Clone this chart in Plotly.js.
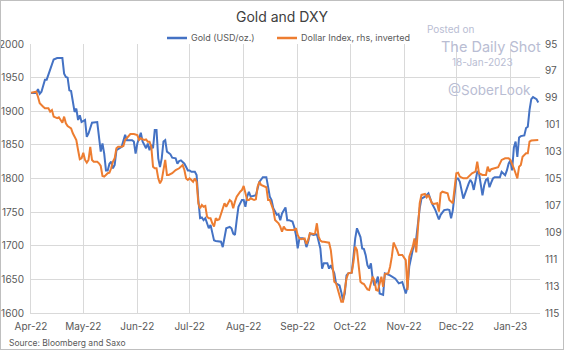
<!DOCTYPE html>
<html><head><meta charset="utf-8">
<script src="https://cdn.plot.ly/plotly-3.0.1.min.js"></script>
<style>
html,body{margin:0;padding:0;background:#fff;}
#wrap{position:relative;width:564px;height:350px;}
#chart{width:564px;height:350px;}
#frame{position:absolute;left:0;top:0;width:564px;height:350px;box-sizing:border-box;border:1px solid #bfbfbf;pointer-events:none;}
</style></head>
<body><div id="wrap"><div id="chart"></div><div id="frame"></div></div>
<script>
// ---- data ----
const goldDates = [
"2022-04-01","2022-04-04","2022-04-05","2022-04-06","2022-04-07","2022-04-08","2022-04-09","2022-04-10","2022-04-11","2022-04-13","2022-04-14","2022-04-16","2022-04-19","2022-04-20","2022-04-21","2022-04-22","2022-04-23","2022-04-24","2022-04-25","2022-04-26","2022-04-27","2022-04-28","2022-04-29","2022-04-30",
"2022-05-02","2022-05-03","2022-05-04","2022-05-05","2022-05-06","2022-05-09","2022-05-10","2022-05-11","2022-05-12","2022-05-13","2022-05-14","2022-05-15","2022-05-16","2022-05-17","2022-05-18","2022-05-19","2022-05-20","2022-05-23","2022-05-25","2022-05-26","2022-05-29","2022-05-30","2022-05-31",
"2022-06-01","2022-06-03","2022-06-04","2022-06-06","2022-06-07","2022-06-08","2022-06-09","2022-06-10","2022-06-11","2022-06-12","2022-06-13","2022-06-14","2022-06-15","2022-06-16","2022-06-17","2022-06-18","2022-06-19","2022-06-20","2022-06-21","2022-06-22","2022-06-23","2022-06-24","2022-06-25","2022-06-26","2022-06-27","2022-06-28","2022-06-29","2022-06-30",
"2022-07-01","2022-07-02","2022-07-04","2022-07-05","2022-07-06","2022-07-07","2022-07-08","2022-07-09","2022-07-10","2022-07-11","2022-07-12","2022-07-13","2022-07-14","2022-07-15","2022-07-16","2022-07-18","2022-07-19","2022-07-20","2022-07-21","2022-07-22","2022-07-24","2022-07-25","2022-07-26","2022-07-27","2022-07-28","2022-07-29","2022-07-30","2022-07-31",
"2022-08-01","2022-08-02","2022-08-03","2022-08-04","2022-08-05","2022-08-07","2022-08-08","2022-08-09","2022-08-10","2022-08-12","2022-08-14","2022-08-15","2022-08-16","2022-08-17","2022-08-18","2022-08-20","2022-08-21","2022-08-22","2022-08-23","2022-08-25","2022-08-26","2022-08-27","2022-08-29","2022-08-30","2022-08-31",
"2022-09-01","2022-09-02","2022-09-04","2022-09-05","2022-09-06","2022-09-07","2022-09-08","2022-09-10","2022-09-12","2022-09-13","2022-09-14","2022-09-15","2022-09-16","2022-09-18","2022-09-19","2022-09-20","2022-09-22","2022-09-23","2022-09-25","2022-09-26","2022-09-27","2022-09-28","2022-09-29","2022-09-30",
"2022-10-02","2022-10-03","2022-10-04","2022-10-05","2022-10-06","2022-10-07","2022-10-08","2022-10-09","2022-10-10","2022-10-11","2022-10-12","2022-10-13","2022-10-14","2022-10-15","2022-10-16","2022-10-17","2022-10-18","2022-10-20","2022-10-21","2022-10-24","2022-10-27","2022-10-29","2022-10-31",
"2022-11-01","2022-11-02","2022-11-03","2022-11-04","2022-11-06","2022-11-08","2022-11-10","2022-11-11","2022-11-13","2022-11-15","2022-11-17","2022-11-19","2022-11-21","2022-11-22","2022-11-24","2022-11-26","2022-11-27","2022-11-28","2022-11-29",
"2022-12-01","2022-12-02","2022-12-03","2022-12-05","2022-12-06","2022-12-07","2022-12-08","2022-12-09","2022-12-10","2022-12-11","2022-12-12","2022-12-13","2022-12-14","2022-12-15","2022-12-16","2022-12-17","2022-12-18","2022-12-19","2022-12-20","2022-12-21","2022-12-22","2022-12-23","2022-12-25","2022-12-26","2022-12-27","2022-12-29","2022-12-30","2022-12-31",
"2023-01-01","2023-01-02","2023-01-03","2023-01-04","2023-01-05","2023-01-06","2023-01-07","2023-01-09","2023-01-10","2023-01-11","2023-01-12","2023-01-13","2023-01-14","2023-01-16","2023-01-17"
];
const goldValues = [
1927,1927,1933,1926,1929,1939,1947,1947,1954,1969,1977,1979,1979,1956,1951,1950,1931,1930,1917,1899,1904,1887,1894,1884,
1887,1862,1867,1875,1883,1884,1862,1840,1852,1837,1812,1812,1822,1825,1815,1820,1842,1847,1865,1857,1857,1855,1837,
1852,1868,1855,1845,1852,1842,1850,1845,1872,1872,1830,1817,1830,1855,1857,1840,1838,1836,1831,1830,1830,1822,1826,1827,1825,1822,1817,1812,
1812,1810,1810,1805,1768,1741,1742,1738,1741,1733,1726,1731,1721,1708,1707,1707,1706,1698,1711,1726,1728,1726,1718,1716,1738,1758,1763,1768,
1768,1758,1773,1780,1773,1774,1775,1785,1795,1802,1802,1788,1773,1768,1756,1746,1747,1738,1748,1757,1738,1738,1736,1728,1716,
1696,1711,1711,1709,1698,1706,1718,1716,1717,1708,1696,1666,1674,1674,1666,1671,1659,1644,1641,1631,1619,1629,1656,1659,
1660,1684,1711,1726,1718,1713,1696,1695,1686,1671,1666,1674,1651,1641,1646,1654,1629,1627,1659,1656,1651,1644,1646,
1639,1629,1639,1669,1694,1711,1756,1770,1773,1778,1763,1753,1739,1746,1753,1754,1753,1741,1753,
1800,1800,1795,1770,1778,1785,1792,1798,1794,1783,1798,1810,1808,1790,1775,1790,1798,1800,1787,1794,1800,1802,1802,1802,1810,1805,1812,1822,
1827,1812,1846,1855,1832,1861,1863,1864,1875,1877,1902,1918,1921,1918,1913
];
const dxyDates = [
"2022-04-01","2022-04-04","2022-04-05","2022-04-06","2022-04-08","2022-04-09","2022-04-11","2022-04-12","2022-04-13","2022-04-14","2022-04-16","2022-04-17","2022-04-18","2022-04-19","2022-04-20","2022-04-21","2022-04-22","2022-04-23","2022-04-24","2022-04-25","2022-04-26","2022-04-27","2022-04-28","2022-04-29","2022-04-30",
"2022-05-01","2022-05-02","2022-05-03","2022-05-04","2022-05-05","2022-05-06","2022-05-07","2022-05-09","2022-05-10","2022-05-11","2022-05-12","2022-05-13","2022-05-15","2022-05-16","2022-05-17","2022-05-18","2022-05-19","2022-05-20","2022-05-21","2022-05-23","2022-05-24","2022-05-25","2022-05-26","2022-05-27","2022-05-28","2022-05-30",
"2022-06-01","2022-06-02","2022-06-03","2022-06-05","2022-06-06","2022-06-07","2022-06-08","2022-06-09","2022-06-10","2022-06-11","2022-06-12","2022-06-13","2022-06-14","2022-06-15","2022-06-16","2022-06-17","2022-06-18","2022-06-19","2022-06-21","2022-06-22","2022-06-23","2022-06-25","2022-06-26","2022-06-27","2022-06-28","2022-06-29","2022-06-30",
"2022-07-01","2022-07-02","2022-07-03","2022-07-04","2022-07-05","2022-07-06","2022-07-07","2022-07-08","2022-07-09","2022-07-10","2022-07-11","2022-07-12","2022-07-13","2022-07-14","2022-07-15","2022-07-16","2022-07-17","2022-07-18","2022-07-19","2022-07-20","2022-07-21","2022-07-22","2022-07-23","2022-07-24","2022-07-25","2022-07-26","2022-07-27","2022-07-28","2022-07-30","2022-07-31",
"2022-08-01","2022-08-02","2022-08-03","2022-08-04","2022-08-05","2022-08-07","2022-08-08","2022-08-09","2022-08-10","2022-08-11","2022-08-13","2022-08-14","2022-08-15","2022-08-16","2022-08-18","2022-08-19","2022-08-21","2022-08-22","2022-08-23","2022-08-24","2022-08-25","2022-08-26","2022-08-28","2022-08-30","2022-08-31",
"2022-09-01","2022-09-02","2022-09-03","2022-09-05","2022-09-06","2022-09-07","2022-09-08","2022-09-10","2022-09-11","2022-09-12","2022-09-13","2022-09-14","2022-09-15","2022-09-16","2022-09-19","2022-09-20","2022-09-21","2022-09-22","2022-09-23","2022-09-24","2022-09-25","2022-09-26","2022-09-27","2022-09-28","2022-09-29","2022-09-30",
"2022-10-02","2022-10-03","2022-10-04","2022-10-05","2022-10-06","2022-10-07","2022-10-08","2022-10-09","2022-10-10","2022-10-11","2022-10-12","2022-10-13","2022-10-14","2022-10-15","2022-10-16","2022-10-17","2022-10-18","2022-10-19","2022-10-20","2022-10-21","2022-10-23","2022-10-24","2022-10-25","2022-10-26","2022-10-28","2022-10-29","2022-10-31",
"2022-11-01","2022-11-02","2022-11-03","2022-11-04","2022-11-06","2022-11-07","2022-11-08","2022-11-10","2022-11-11","2022-11-13","2022-11-14","2022-11-15","2022-11-17","2022-11-18","2022-11-20","2022-11-21","2022-11-22","2022-11-23","2022-11-26","2022-11-27","2022-11-29",
"2022-12-01","2022-12-02","2022-12-03","2022-12-05","2022-12-07","2022-12-10","2022-12-12","2022-12-13","2022-12-14","2022-12-16","2022-12-18","2022-12-19","2022-12-20","2022-12-21","2022-12-23","2022-12-25","2022-12-27","2022-12-29","2022-12-31",
"2023-01-01","2023-01-03","2023-01-04","2023-01-05","2023-01-06","2023-01-07","2023-01-08","2023-01-09","2023-01-10","2023-01-11","2023-01-12","2023-01-13","2023-01-16","2023-01-17"
];
const dxyValues = [
98.62,98.55,98.92,99.41,99.66,99.78,99.78,100.03,99.91,100.40,100.52,100.45,100.65,100.85,100.40,100.90,101.10,101.19,101.27,101.64,101.89,102.14,102.88,103.57,103.50,
103.08,103.62,103.82,103.62,102.64,103.62,103.75,103.75,103.87,104.07,104.81,104.86,104.61,104.57,104.24,103.75,103.50,102.75,102.64,102.64,102.58,102.14,102.01,101.89,101.69,101.69,
101.77,102.14,102.01,102.14,102.09,102.26,102.26,102.64,104.12,104.24,104.24,104.99,105.36,105.11,104.49,103.62,104.74,104.74,104.61,104.49,104.37,104.24,104.12,104.00,104.37,104.99,105.11,
104.99,105.11,105.24,104.99,105.24,106.84,107.22,106.97,107.10,107.04,107.84,107.96,107.96,108.33,108.58,107.96,108.09,108.03,107.59,107.10,106.84,107.10,106.84,106.60,106.72,107.22,106.72,106.35,105.98,105.86,
105.55,106.10,106.60,106.60,106.47,106.60,106.55,105.61,105.24,105.48,105.56,105.65,106.60,106.60,107.34,108.09,108.33,108.58,108.96,108.58,108.78,108.83,108.83,108.83,108.70,
109.20,109.45,109.52,109.45,109.87,109.57,109.07,109.13,109.07,108.33,109.33,109.62,109.70,109.70,109.77,110.32,111.68,112.67,112.79,113.29,113.66,114.16,114.16,113.29,112.42,112.05,
112.00,111.19,110.07,110.32,111.56,112.67,112.79,112.84,113.05,113.24,113.29,112.79,112.30,112.55,113.29,113.34,112.79,112.30,113.05,112.10,112.05,111.56,110.81,109.76,110.32,110.69,110.69,
110.94,111.07,113.29,110.81,110.07,109.45,110.50,106.84,106.22,106.15,106.40,106.22,106.84,106.89,106.84,107.46,106.10,105.98,106.10,106.60,106.84,
104.61,104.57,104.86,104.99,104.99,104.61,104.49,103.75,104.61,104.74,104.74,104.12,104.49,104.31,104.24,104.16,103.62,103.50,103.50,
103.62,104.24,104.61,104.99,104.12,104.00,103.38,103.25,103.13,103.13,102.26,102.18,102.18,102.14
];
const leftTicks = [1600,1650,1700,1750,1800,1850,1900,1950,2000];
const rightTicks = [95,97,99,101,103,105,107,109,111,113,115];
const seriesNames = ["Gold (USD/oz.)","Dollar Index, rhs, inverted"];
const chartTitle = "Gold and DXY";
const sourceText = "Source: Bloomberg and Saxo";
const watermark = ["Posted on","The Daily Shot","18-Jan-2023","@SoberLook"];

// ---- layout ----
const W=564,H=350, M={l:31,r:24,t:44,b:37,pad:0};
const PW=W-M.l-M.r, PH=H-M.t-M.b;
const px=x=>(x-M.l)/PW, py=y=>(H-M.b-y)/PH;
const FONT='Inter, "Noto Sans", sans-serif';
const BLUE='#4472C4', ORANGE='#ED7D31', GRID='#d9d9d9', TXT='#595959', WM='#b9bdd3';

const traces=[
 {x:goldDates,y:goldValues,name:seriesNames[0],type:'scatter',mode:'lines',line:{color:BLUE,width:2},yaxis:'y'},
 {x:dxyDates,y:dxyValues,name:seriesNames[1],type:'scatter',mode:'lines',line:{color:ORANGE,width:2},yaxis:'y2'}
];

function ann(text,x,y,size,color,anchor){
  return {text:text,xref:'paper',yref:'paper',x:px(x),y:py(y),showarrow:false,
    xanchor:anchor||'center',yanchor:'middle',font:{family:FONT,size:size,color:color}};
}

const layout={
 width:W,height:H,margin:M,
 paper_bgcolor:'#ffffff',plot_bgcolor:'#ffffff',
 showlegend:false,
 title:{text:chartTitle,font:{family:FONT,size:14,color:'#404040'},xref:'container',x:0.5,xanchor:'center',yref:'container',y:1-17/H,yanchor:'middle'},
 xaxis:{type:'date',range:['2022-04-01','2023-01-18'],tick0:'2022-04-01',dtick:'M1',tickformat:'%b-%y',
   showgrid:true,gridcolor:GRID,gridwidth:1,zeroline:false,showline:true,linecolor:GRID,linewidth:1,ticks:'',
   tickfont:{family:FONT,size:10,color:TXT},ticklabelstandoff:4},
 yaxis:{range:[1600,2000],tickvals:leftTicks,showgrid:true,gridcolor:GRID,gridwidth:1,zeroline:false,
   showline:true,linecolor:GRID,linewidth:1,ticks:'',tickfont:{family:FONT,size:10,color:TXT},ticklabelstandoff:4},
 yaxis2:{range:[115,95],tickvals:rightTicks,overlaying:'y',side:'right',showgrid:false,zeroline:false,showline:false,
   ticks:'',tickfont:{family:FONT,size:10,color:TXT},ticklabelstandoff:4},
 shapes:[
  {type:'line',xref:'paper',yref:'paper',x0:px(167),x1:px(187),y0:py(38),y1:py(38),line:{color:BLUE,width:2.5}},
  {type:'line',xref:'paper',yref:'paper',x0:px(277),x1:px(297),y0:py(38),y1:py(38),line:{color:ORANGE,width:2.5}}
 ],
 annotations:[
  ann(seriesNames[0],189,38,9,TXT,'left'),
  ann(seriesNames[1],299,38,9,TXT,'left'),
  ann(watermark[0],451,29,10,WM),
  ann(watermark[1],491,46,14.5,WM),
  ann(watermark[2],482,62,10,WM),
  ann(watermark[3],489,90,13.5,WM),
  ann(sourceText,7,343,8.5,TXT,'left')
 ]
};
Plotly.newPlot('chart',traces,layout,{staticPlot:true,displayModeBar:false});
</script>
</body></html>
